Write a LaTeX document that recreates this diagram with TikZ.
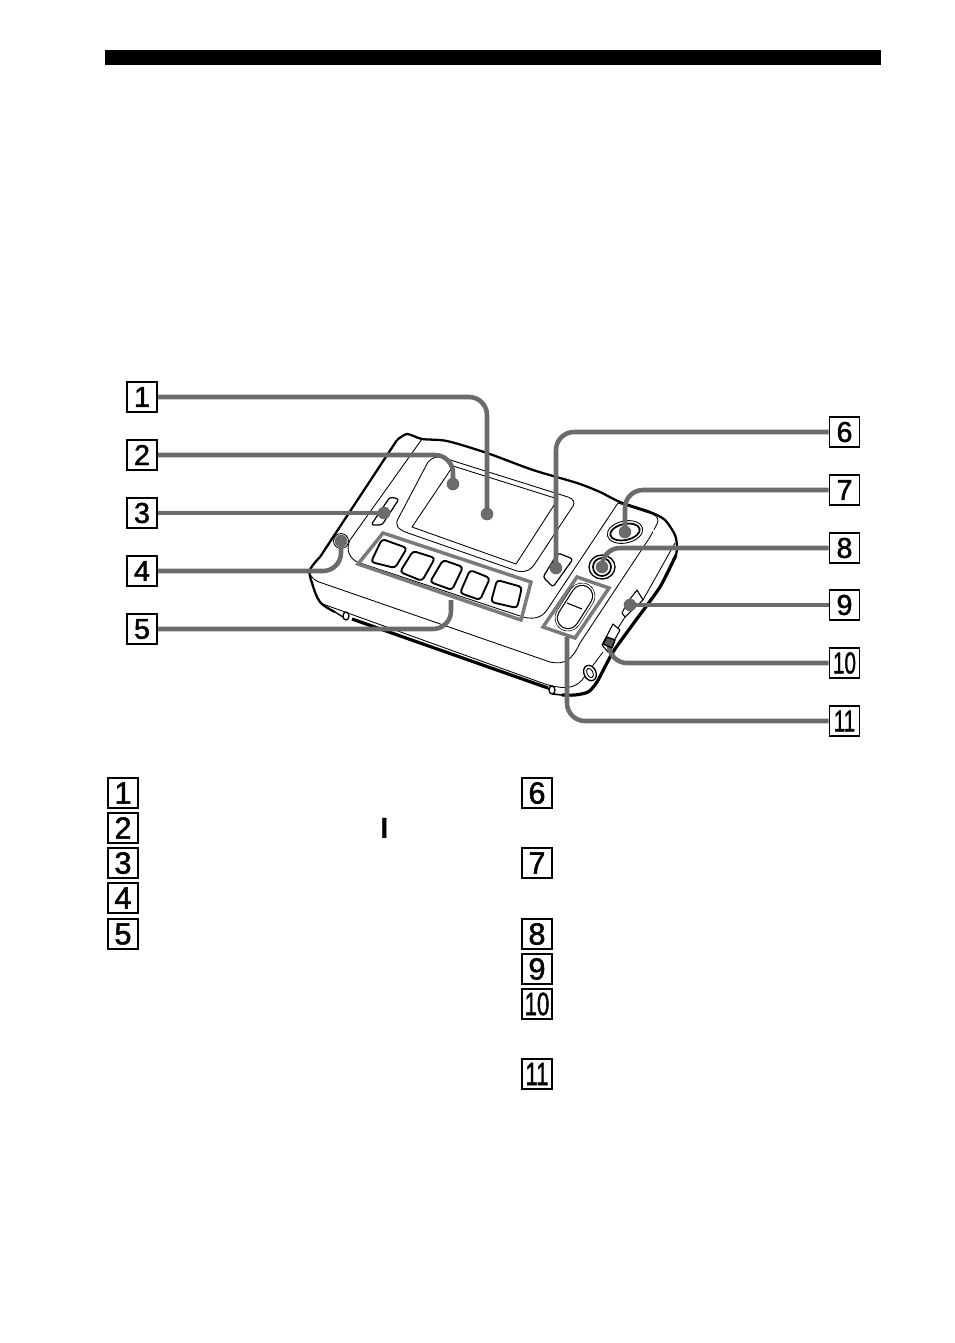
\documentclass[tikz,border=0pt]{standalone}
\usepackage{fontspec}
\setmainfont{Liberation Sans}
\newfontface\digitface[FakeBold=1.6]{Liberation Sans}
\usetikzlibrary{calc}
\definecolor{leadgray}{HTML}{6B6B6B}
\tikzset{
 numbox/.style={draw=black,line width=1.2pt,minimum size=22.5pt,inner sep=0pt,fill=white,font=\fontsize{21.5}{21.5}\selectfont\digitface},
 listbox/.style={draw=black,line width=1.2pt,minimum size=22.5pt,inner sep=0pt,fill=white,font=\fontsize{23}{23}\selectfont\digitface},
 leader/.style={draw=leadgray,line width=3.4pt,rounded corners=13.5pt},
 leaddot/.style={circle,fill=leadgray,minimum size=9.5pt,inner sep=0pt},
 heavy/.style={draw=black,line width=1.7pt,line join=round},
 mid/.style={draw=black,line width=1pt,line join=round},
 thin line/.style={draw=black,line width=0.65pt,line join=round},
 keycap/.style={draw=black,line width=1.4pt,rounded corners=2.5pt,fill=white},
 frame/.style={draw=leadgray!90,line width=2.6pt,line join=miter},
}
\newcommand{\cond}[1]{\scalebox{0.72}[1.05]{#1}}
\begin{document}
\begin{tikzpicture}[x=0.75pt,y=-0.75pt]
\useasboundingbox (0,0) rectangle (954,1343);
\fill[white] (0,0) rectangle (954,1343);
\fill[black] (105,50) rectangle (881,65);

% device outline
\draw[heavy] plot[smooth,tension=0.45] coordinates {(397,440) (407,434) (422,439) (447,441) (487,453) (533,470) (577,483) (600,492) (620,502) (650,512) (665,520) (675,535) (677,547) (676,555)};
\draw[heavy,line width=2.4pt] plot[smooth,tension=0.4] coordinates {(676,555) (660,587) (636,620) (613,652) (597,682) (588,692) (575,695) (562,695)};
\draw[heavy] (397,440) -- (320,557);
\draw[heavy] plot[smooth,tension=0.6] coordinates {(320,557) (310,570) (312,583) (320,602) (335,612)};
\draw[mid] (335,612) -- (343,617);
\draw[heavy,line width=2.4pt] (352,619) -- (548,688);
\draw[heavy,line width=1.2pt] (548,688) -- (553,694) -- (562,695);
% feet
\draw[mid,fill=white] (346,616) circle[x radius=3,y radius=4];
\draw[mid,fill=white] (552,690) circle[x radius=3,y radius=4];
% panel lines
\draw[thin line] (422,439) -- (350,540) .. controls (345,550) and (350,560) .. (360,563) -- (523,617) .. controls (535,620) and (542,617) .. (547,610) -- (618,503);
\draw[thin line] (618,503) -- (652,514) .. controls (658,516) and (659,520) .. (657,524);
\draw[thin line,dash pattern=on 5pt off 1.5pt] (657,524) -- (650,537);
\draw[thin line] (650,537) -- (580,643) .. controls (572,660) and (565,665) .. (550,662) -- (322,583) .. controls (315,581) and (312,578) .. (310,574);
\draw[thin line] (320,603) -- (545,684) .. controls (565,690) and (575,688) .. (582,680) -- (603,652);
\draw[thin line] (675,543) -- (643,600);
\draw[thin line] (625,617) -- (618,628);
% screen
\draw[thin line] (428,462) .. controls (433,457) and (437,456) .. (444,458) -- (568,497) .. controls (574,499) and (575,503) .. (573,506) -- (536,562) .. controls (531,570) and (526,573) .. (517,571) -- (408,533) .. controls (397,529) and (394,525) .. (399,517) -- cycle;
\draw[thin line] (453,466) -- (558,499) -- (516,564) -- (412,527) -- cycle;
% button 3
\draw[thin line,line width=0.9pt,rounded corners=2pt] (390,497) -- (399,499) -- (382,525) -- (371,525) -- cycle;
% button 4
\draw[thin line,fill=white] (341,541) circle[radius=7.5];
\draw[mid,fill=black!70] (341,541) circle[radius=5];
% key frame + keys
\draw[frame] (383,533) -- (531,582) -- (521,620) -- (358,564) -- cycle;
\draw[keycap] (382,539) -- (407,548) -- (395,568) -- (371,562) -- cycle;
\draw[keycap] (413,551) -- (435,558) -- (422,581) -- (400,572) -- cycle;
\draw[keycap] (443,560) -- (463,567) -- (452,590) -- (430,582) -- cycle;
\draw[keycap] (470,570) -- (490,578) -- (480,600) -- (460,593) -- cycle;
\draw[keycap] (497,580) -- (522,587) -- (517,608) -- (491,602) -- cycle;
% button 6
\draw[thin line,line width=0.9pt,rounded corners=2pt] (558,553) -- (573,559) -- (553,587) -- (543,577) -- cycle;
% button 7
\draw[thin line,fill=white,rotate around={12:(625,532)}] (625,532) ellipse[x radius=18,y radius=11];
\draw[mid,line width=1.3pt,fill=white,rotate around={12:(625,532)}] (625,532) ellipse[x radius=15,y radius=8];
% button 8
\draw[mid,fill=white] (602,567) ellipse[x radius=13,y radius=12];
\draw[mid,line width=1.3pt,fill=white] (602,567) circle[radius=9];
% rocker group
\draw[frame] (577,577) -- (609,588) -- (575,638) -- (543,627) -- cycle;
\draw[black,line width=20pt,line cap=round] (582,596) -- (568,618);
\draw[white,line width=19.1pt,line cap=round] (582,596) -- (568,618);
\draw[black,line width=16.8pt,line cap=round] (582,596) -- (568,618);
\draw[white,line width=15pt,line cap=round] (582,596) -- (568,618);
\draw[thin line,line width=0.8pt] (567,603) -- (582,609);
% side switches
\draw[thin line,line width=0.8pt,fill=white] (622,613) -- (627,603) -- (637,590) -- (643,600) -- (630,612) -- (625,617) -- cycle;
\draw[thin line,line width=0.8pt,fill=white] (613,624) -- (620,630) -- (608,652) -- (602,645) -- cycle;
% jack
\draw[mid,fill=white,rotate around={25:(590,673)}] (590,673) ellipse[x radius=6,y radius=8];
\draw[thin line,rotate around={25:(590,673)}] (590,673) ellipse[x radius=3,y radius=5];

% callout boxes
\node[numbox] (b1) at (142,397) {1};
\node[numbox] (b2) at (142,455) {2};
\node[numbox] (b3) at (142,513) {3};
\node[numbox] (b4) at (142,571) {4};
\node[numbox] (b5) at (142,629) {5};
\node[numbox] (b6) at (844.5,432) {6};
\node[numbox] (b7) at (844.5,490) {7};
\node[numbox] (b8) at (844.5,548) {8};
\node[numbox] (b9) at (844.5,605) {9};
\node[numbox] (b10) at (844.5,663) {\cond{10}};
\node[numbox] (b11) at (844.5,721) {\cond{11}};

% leader ends
\node[leaddot] (d1) at (487,514) {};
\node[leaddot] (d2) at (453,484) {};
\node[leaddot] (d3) at (384,513) {};
\node[leaddot] (d4) at (341,541) {};
\coordinate (d5) at (451,600);
\node[leaddot] (d6) at (556,568) {};
\node[leaddot] (d7) at (625,532) {};
\node[leaddot] (d8) at (602,567) {};
\node[leaddot] (d9) at (630,605) {};
\coordinate (d10) at (609,643);
\coordinate (d11) at (567,637);

\draw[leader] (b1.east) -| (d1.center);
\draw[leader] (b2.east) -| (d2.center);
\draw[leader] (b3.east) -- (d3.center);
\draw[leader] (b4.east) -| (d4.center);
\draw[leader] (b5.east) -| (d5);
\draw[leader] (b6.west) -| (d6.center);
\draw[leader] (b7.west) -| (d7.center);
\draw[leader] (b8.west) -| (d8.center);
\draw[leader] (b9.west) -- (d9.center);
\draw[leader] (b10.west) -| (d10);
\draw[leader] (b11.west) -| (d11);
% dark slider of switch 10
\draw[mid,fill=leadgray!80!black] (607,637) -- (615,640) -- (612,648) -- (603,644) -- cycle;

% list boxes
\node[listbox] (l1) at (123,793) {1};
\node[listbox] (l2) at (123,828) {2};
\node[listbox] (l3) at (123,863) {3};
\node[listbox] (l4) at (123,898) {4};
\node[listbox] (l5) at (123,934) {5};
\node[listbox] (l6) at (537,793) {6};
\node[listbox] (l7) at (537,863) {7};
\node[listbox] (l8) at (537,934) {8};
\node[listbox] (l9) at (537,969) {9};
\node[listbox] (l10) at (537,1004) {\cond{10}};
\node[listbox] (l11) at (537,1074) {\cond{11}};
\node[font=\fontsize{22}{22}\selectfont\bfseries,inner sep=0pt] (ibar) at (384.5,828.5) {I};
\end{tikzpicture}
\end{document}
